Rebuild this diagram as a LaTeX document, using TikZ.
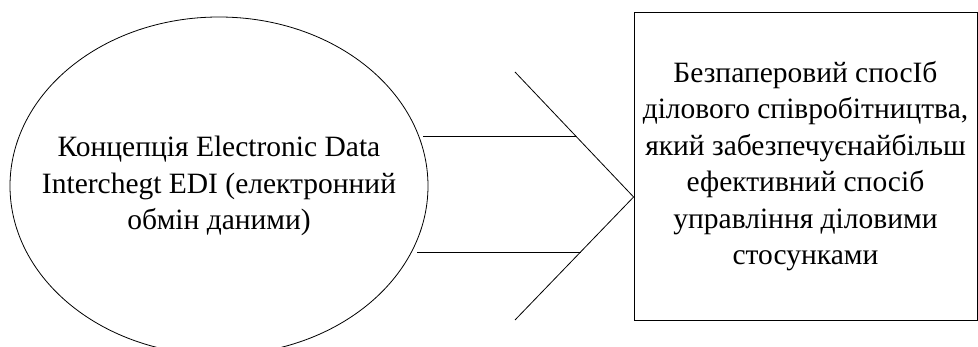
\documentclass[tikz,border=0pt]{standalone}
\usepackage{fontspec}
\setmainfont{Liberation Serif}

\begin{document}
\begin{tikzpicture}[x=1pt, y=1pt, line width=0.8pt,
    txt/.style={align=center, font=\fontsize{29.5}{36.5}\selectfont}]
  \useasboundingbox (0, 0) rectangle (978, 347);
  \clip (0, 0) rectangle (978, 347);
  \node[txt] (concept) at (219, 161)
    {Концепція Electronic Data\\Interchegt EDI (електронний\\обмін даними)};
  \draw (concept.center) ellipse [x radius=209, y radius=169];
  \node[draw, rectangle, minimum width=343, minimum height=308, inner sep=0, txt] (result) at (805.5, 181)
    {Безпаперовий спосІб\\ділового співробітництва,\\який забезпечуєнайбільш\\ефективний спосіб\\управління діловими\\стосунками};
  \coordinate (tip) at (result.west |- 0, 150);
  \coordinate (top) at (515, 275);
  \coordinate (bot) at (515, 27);
  \coordinate (upA) at (423, 211);
  \coordinate (upB) at (576, 211);
  \coordinate (lowA) at (417, 95);
  \coordinate (lowB) at (581, 95);
  \draw[-] (top) -- (tip);
  \draw[-] (tip) -- (bot);
  \draw[-] (upA) -- (upB);
  \draw[-] (lowA) -- (lowB);
\end{tikzpicture}
\end{document}
